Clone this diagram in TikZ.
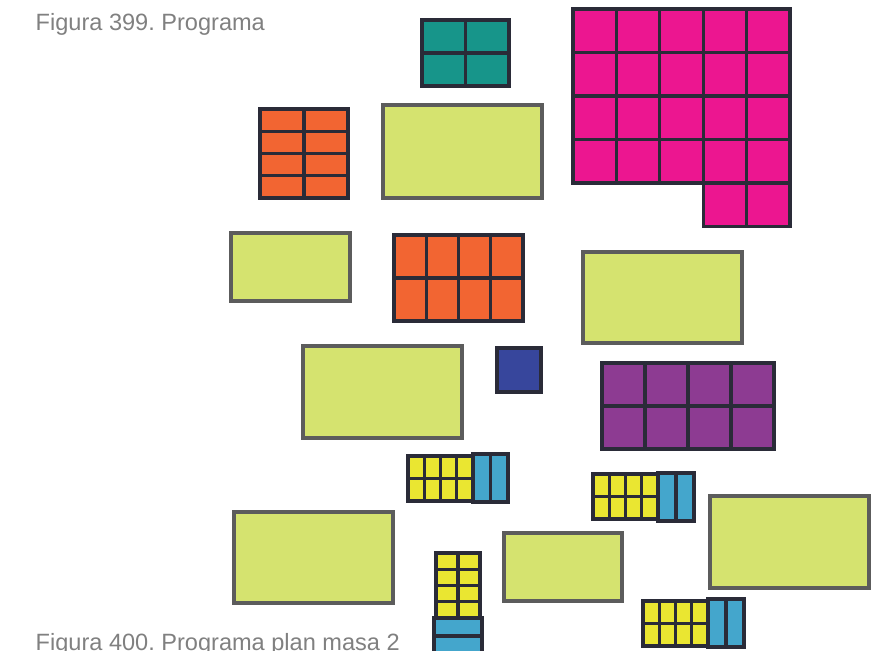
\documentclass[tikz,border=0pt]{standalone}
\usepackage{fontspec}
\setmainfont{Liberation Sans}
\usepackage{xcolor}
\usepackage{tikz}
\frenchspacing
\definecolor{caption}{HTML}{808080}
\definecolor{edge}{HTML}{2A2B38}
\definecolor{rim}{HTML}{5C5C5C}
\definecolor{lawn}{HTML}{D5E36F}
\definecolor{teal}{HTML}{17958A}
\definecolor{magenta}{HTML}{EC1690}
\definecolor{brick}{HTML}{F26532}
\definecolor{violet}{HTML}{8D3B92}
\definecolor{navy}{HTML}{37469C}
\definecolor{lemon}{HTML}{EAE631}
\definecolor{sky}{HTML}{44A6CC}

\begin{document}
\begin{tikzpicture}[x=0.01cm,y=-0.01cm,
  cell/.style={draw=edge,line width=0.9pt},
  plot/.style={fill=lawn,draw=rim,line width=0.9pt},
  caption/.style={anchor=base west,inner sep=0pt,text=caption,
    font=\fontsize{6.7}{8}\selectfont}]
\useasboundingbox (0,0) rectangle (896,650);
\node[caption] (cap1) at (35,30) {Figura 399. Programa};
\node[caption] (cap2) at (35,650) {Figura 400. Programa plan masa 2};
% open plots
\draw[plot] (383,105) rectangle (542,198);
\draw[plot] (231,233) rectangle (350,301);
\draw[plot] (583,252) rectangle (742,343);
\draw[plot] (303,346) rectangle (462,438);
\draw[plot] (234,512) rectangle (393,603);
\draw[plot] (504,533) rectangle (622,601);
\draw[plot] (710,496) rectangle (869,588);
% teal block
\foreach \i in {0,1} \foreach \j in {0,1}
  \filldraw[cell,fill=teal] ({422+\i*43.5},{20+\j*33}) rectangle +(43.5,33);
% magenta block
\foreach \i in {0,...,4} \foreach \j in {0,...,3}
  \filldraw[cell,fill=magenta] ({573+\i*43.4},{9+\j*43.5}) rectangle +(43.4,43.5);
\foreach \i in {3,4}
  \filldraw[cell,fill=magenta] ({573+\i*43.4},183) rectangle +(43.4,43.5);
% orange blocks
\foreach \i in {0,1} \foreach \j in {0,...,3}
  \filldraw[cell,fill=brick] ({260+\i*44},{109+\j*22.25}) rectangle +(44,22.25);
\foreach \i in {0,...,3} \foreach \j in {0,1}
  \filldraw[cell,fill=brick] ({394+\i*32.25},{235+\j*43}) rectangle +(32.25,43);
% purple block
\foreach \i in {0,...,3} \foreach \j in {0,1}
  \filldraw[cell,fill=violet] ({602+\i*43},{363+\j*43}) rectangle +(43,43);
% navy square
\filldraw[cell,fill=navy] (497,348) rectangle (541,392);
% yellow and blue units
\foreach \x/\y/\bx/\by/\bw in {408/456/473/454/17.5, 593/474/658/473/18, 643/601/708/599/18} {
  \foreach \i in {0,...,3} \foreach \j in {0,1}
    \filldraw[cell,fill=lemon] ({\x+\i*16.25},{\y+\j*22.5}) rectangle +(16.25,22.5);
  \foreach \i in {0,1}
    \filldraw[cell,fill=sky] ({\bx+\i*\bw},\by) rectangle +(\bw,48);
}
\foreach \i in {0,1} \foreach \j in {0,...,3}
  \filldraw[cell,fill=lemon] ({436+\i*22},{553+\j*16.25}) rectangle +(22,16.25);
\foreach \j in {0,1}
  \filldraw[cell,fill=sky] (434,{618+\j*18}) rectangle +(48,18);
\end{tikzpicture}
\end{document}
